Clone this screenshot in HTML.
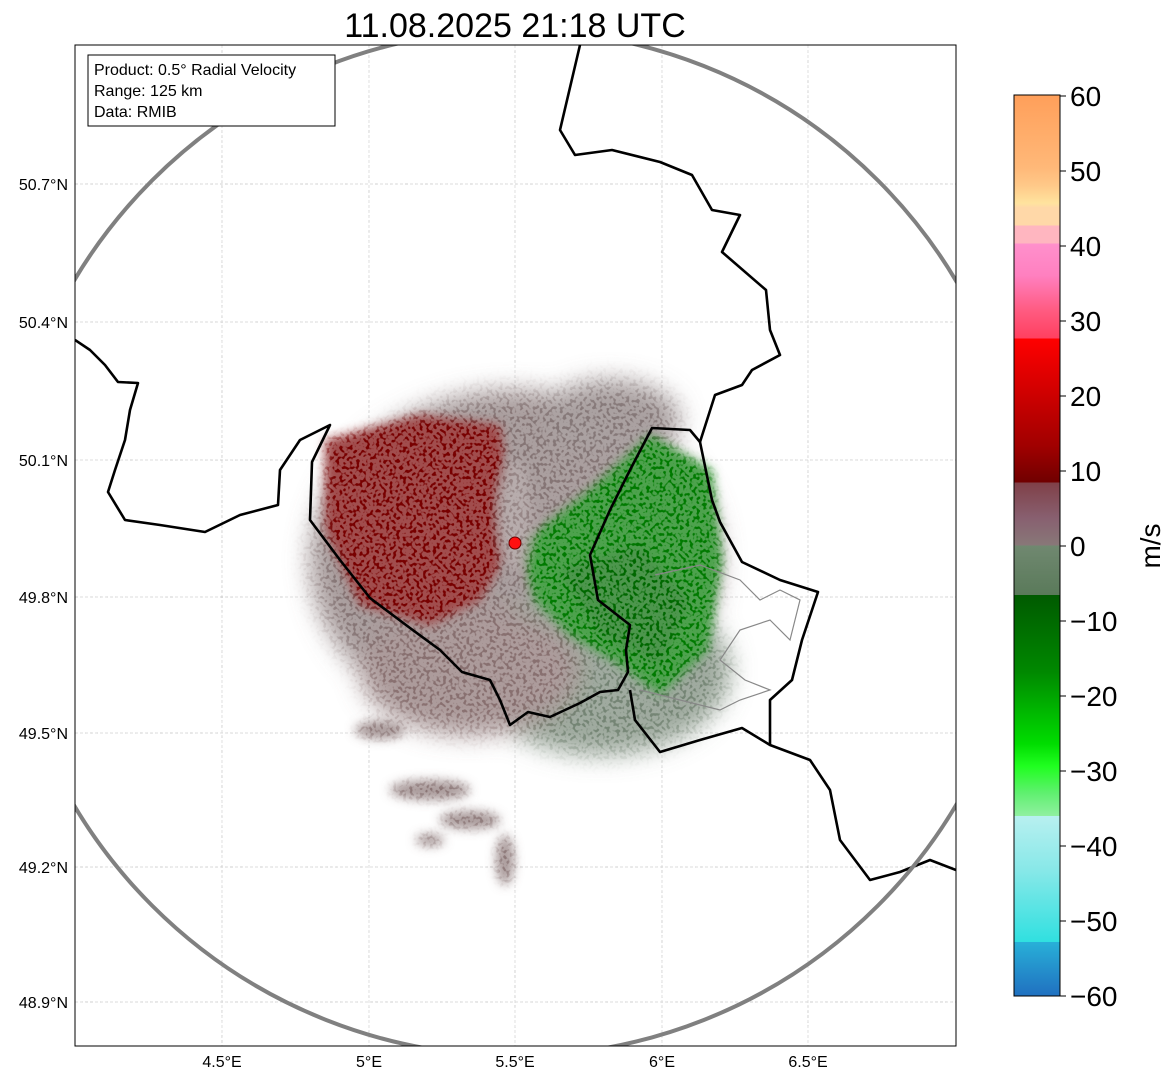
<!DOCTYPE html>
<html><head><meta charset="utf-8"><style>
body{margin:0;background:#fff;width:1171px;height:1081px;overflow:hidden;font-family:"Liberation Sans","DejaVu Sans",sans-serif}
</style></head><body>
<svg width="1171" height="1081" xmlns="http://www.w3.org/2000/svg">
<defs>
<filter id="b6"><feGaussianBlur stdDeviation="5"/></filter>
<filter id="b12"><feGaussianBlur stdDeviation="12"/></filter>
<filter id="spk" x="0" y="0" width="100%" height="100%">
 <feTurbulence type="fractalNoise" baseFrequency="0.3" numOctaves="1" seed="3" result="n"/>
 <feColorMatrix in="n" type="matrix" values="0 0 0 0 1  0 0 0 0 1  0 0 0 0 1  0 0 0 -9 5.6" result="m"/>
 <feComposite in="m" in2="SourceGraphic" operator="in"/>
</filter>
<clipPath id="mapclip"><rect x="75" y="45" width="881" height="1001"/></clipPath>
<linearGradient id="cbar" x1="0" y1="0" x2="0" y2="1">
 <stop offset="0" stop-color="#ff9f5a"/><stop offset="0.08" stop-color="#ffb878"/>
 <stop offset="0.1" stop-color="#ffc888"/><stop offset="0.12" stop-color="#ffe39e"/>
 <stop offset="0.125" stop-color="#ffd8a8"/><stop offset="0.145" stop-color="#ffd8a8"/>
 <stop offset="0.145" stop-color="#ffb6c0"/><stop offset="0.165" stop-color="#ffb6c0"/>
 <stop offset="0.165" stop-color="#ff90cc"/><stop offset="0.2" stop-color="#ff80c0"/>
 <stop offset="0.24" stop-color="#ff5a80"/><stop offset="0.27" stop-color="#ff4060"/>
 <stop offset="0.27" stop-color="#ff0000"/><stop offset="0.33" stop-color="#d00000"/>
 <stop offset="0.39" stop-color="#a00000"/><stop offset="0.43" stop-color="#700000"/>
 <stop offset="0.43" stop-color="#804048"/><stop offset="0.47" stop-color="#886070"/>
 <stop offset="0.5" stop-color="#887878"/><stop offset="0.5" stop-color="#708870"/>
 <stop offset="0.555" stop-color="#5a7a5a"/><stop offset="0.555" stop-color="#005a00"/>
 <stop offset="0.64" stop-color="#008800"/><stop offset="0.72" stop-color="#00dd00"/>
 <stop offset="0.745" stop-color="#20ff20"/><stop offset="0.775" stop-color="#60f070"/>
 <stop offset="0.8" stop-color="#90f0a0"/><stop offset="0.8" stop-color="#b8f0f0"/>
 <stop offset="0.86" stop-color="#88e8e8"/><stop offset="0.94" stop-color="#30e0e0"/>
 <stop offset="0.94" stop-color="#28b0d8"/><stop offset="1" stop-color="#2070c0"/>
</linearGradient>
</defs>

<text x="515" y="37" font-size="34" text-anchor="middle" fill="#000">11.08.2025 21:18 UTC</text>

<g clip-path="url(#mapclip)">
 <g stroke="#c0c0c0" stroke-width="0.7" stroke-dasharray="3,2">
  <line x1="222" y1="45" x2="222" y2="1046"/><line x1="369" y1="45" x2="369" y2="1046"/>
  <line x1="515" y1="45" x2="515" y2="1046"/><line x1="662" y1="45" x2="662" y2="1046"/>
  <line x1="808" y1="45" x2="808" y2="1046"/>
  <line x1="75" y1="184" x2="956" y2="184"/><line x1="75" y1="322" x2="956" y2="322"/>
  <line x1="75" y1="460" x2="956" y2="460"/><line x1="75" y1="597" x2="956" y2="597"/>
  <line x1="75" y1="733" x2="956" y2="733"/><line x1="75" y1="867" x2="956" y2="867"/>
  <line x1="75" y1="1002" x2="956" y2="1002"/>
 </g>

 <g>
  <g filter="url(#b12)">
   <ellipse cx="515" cy="560" rx="205" ry="170" fill="#857575"/>
   <ellipse cx="600" cy="670" rx="130" ry="85" fill="#758575"/>
   <ellipse cx="610" cy="420" rx="70" ry="40" fill="#857878"/>
   <ellipse cx="470" cy="670" rx="110" ry="65" fill="#887070"/>
  </g>
  <g filter="url(#b6)">
   <path d="M325,440 L420,415 L500,425 L515,540 L480,600 L430,625 L360,605 L325,530 Z" fill="#780000"/>
   <path d="M520,545 L590,490 L650,435 L712,470 L722,560 L708,650 L660,695 L620,665 L570,635 L535,600 Z" fill="#007a00"/>
   <path d="M560,570 L640,545 L690,600 L660,665 L600,635 Z" fill="#006800"/>
   <ellipse cx="515" cy="515" rx="16" ry="55" fill="#988888"/>
  </g>
  <g filter="url(#b6)" fill="#857070">
   <ellipse cx="430" cy="790" rx="40" ry="10"/>
   <ellipse cx="470" cy="820" rx="30" ry="9"/>
   <ellipse cx="505" cy="860" rx="9" ry="25"/>
   <ellipse cx="380" cy="730" rx="25" ry="9"/>
   <ellipse cx="430" cy="840" rx="14" ry="6"/>
  </g>
  <rect x="75" y="45" width="881" height="1001" fill="#ffffff" filter="url(#spk)" opacity="0.3"/>
  <circle cx="515" cy="543" r="6" fill="#ff1010" stroke="#600" stroke-width="1"/>
 </g>

 <g fill="none" stroke="#888" stroke-width="1.2">
  <path d="M655,575 L700,565 L740,580 L760,600 L780,590 L800,600 L790,640 L770,620 L740,630 L720,660 L745,680 L770,690 L740,700 L720,710 L680,700 L640,690"/>
 </g>

 <g fill="none" stroke="#000" stroke-width="2.6" stroke-linejoin="round">
  <path d="M75,340 L90,350 L105,365 L118,382 L138,383 L130,410 L125,440 L115,470 L108,492 L125,520 L160,525 L205,532 L240,515 L278,505 L280,470 L300,440 L330,425 L312,462 L310,520 L340,560 L370,598 L410,628 L440,650 L462,672 L490,680 L500,700 L510,725 L528,712 L550,717 L580,703 L600,692 L618,690 L628,672 L626,650 L630,625 L598,600 L590,555 L610,510 L630,470 L652,428 L690,430 L700,442 L715,395 L742,385 L752,370 L780,355 L770,330 L766,290 L722,252 L740,215 L712,210 L692,175 L660,162 L612,150 L575,155 L560,130 L580,45"/>
  <path d="M700,442 L712,500 L720,522 L742,562 L780,580 L818,592 L802,640 L792,680 L770,700 L770,745"/>
  <path d="M630,690 L635,720 L660,752 L700,740 L742,728 L770,745 L810,760 L830,790 L840,840 L870,880 L900,872 L930,860 L956,870"/>
 </g>

 <circle cx="515" cy="543" r="513" fill="none" stroke="#808080" stroke-width="4"/>
</g>

<rect x="75" y="45" width="881" height="1001" fill="none" stroke="#000" stroke-width="1"/>

<g font-size="16" fill="#000" text-anchor="middle">
 <text x="222" y="1067">4.5°E</text><text x="369" y="1067">5°E</text><text x="515" y="1067">5.5°E</text>
 <text x="662" y="1067">6°E</text><text x="808" y="1067">6.5°E</text>
</g>
<g font-size="16" fill="#000" text-anchor="end">
 <text x="68" y="190">50.7°N</text><text x="68" y="328">50.4°N</text><text x="68" y="466">50.1°N</text>
 <text x="68" y="603">49.8°N</text><text x="68" y="739">49.5°N</text><text x="68" y="873">49.2°N</text>
 <text x="68" y="1008">48.9°N</text>
</g>

<g>
 <rect x="88" y="55" width="247" height="71" fill="#fff" stroke="#000" stroke-width="1"/>
 <text x="94" y="75" font-size="16">Product: 0.5° Radial Velocity</text>
 <text x="94" y="96" font-size="16">Range: 125 km</text>
 <text x="94" y="117" font-size="16">Data: RMIB</text>
</g>

<g>
 <rect x="1014" y="95" width="46" height="901" fill="url(#cbar)" stroke="#000" stroke-width="1"/>
 <g stroke="#000" stroke-width="1">
  <line x1="1060" y1="96" x2="1066" y2="96"/><line x1="1060" y1="171" x2="1066" y2="171"/>
  <line x1="1060" y1="246" x2="1066" y2="246"/><line x1="1060" y1="321" x2="1066" y2="321"/>
  <line x1="1060" y1="396" x2="1066" y2="396"/><line x1="1060" y1="471" x2="1066" y2="471"/>
  <line x1="1060" y1="546" x2="1066" y2="546"/><line x1="1060" y1="621" x2="1066" y2="621"/>
  <line x1="1060" y1="696" x2="1066" y2="696"/><line x1="1060" y1="771" x2="1066" y2="771"/>
  <line x1="1060" y1="846" x2="1066" y2="846"/><line x1="1060" y1="921" x2="1066" y2="921"/>
  <line x1="1060" y1="996" x2="1066" y2="996"/>
 </g>
 <g font-size="28" fill="#000">
  <text x="1070" y="106">60</text><text x="1070" y="181">50</text><text x="1070" y="256">40</text>
  <text x="1070" y="331">30</text><text x="1070" y="406">20</text><text x="1070" y="481">10</text>
  <text x="1070" y="556">0</text><text x="1070" y="631">−10</text><text x="1070" y="706">−20</text>
  <text x="1070" y="781">−30</text><text x="1070" y="856">−40</text><text x="1070" y="931">−50</text>
  <text x="1070" y="1006">−60</text>
 </g>
 <text x="0" y="0" font-size="28" transform="translate(1160,546) rotate(-90)" text-anchor="middle">m/s</text>
</g>
</svg>
</body></html>
